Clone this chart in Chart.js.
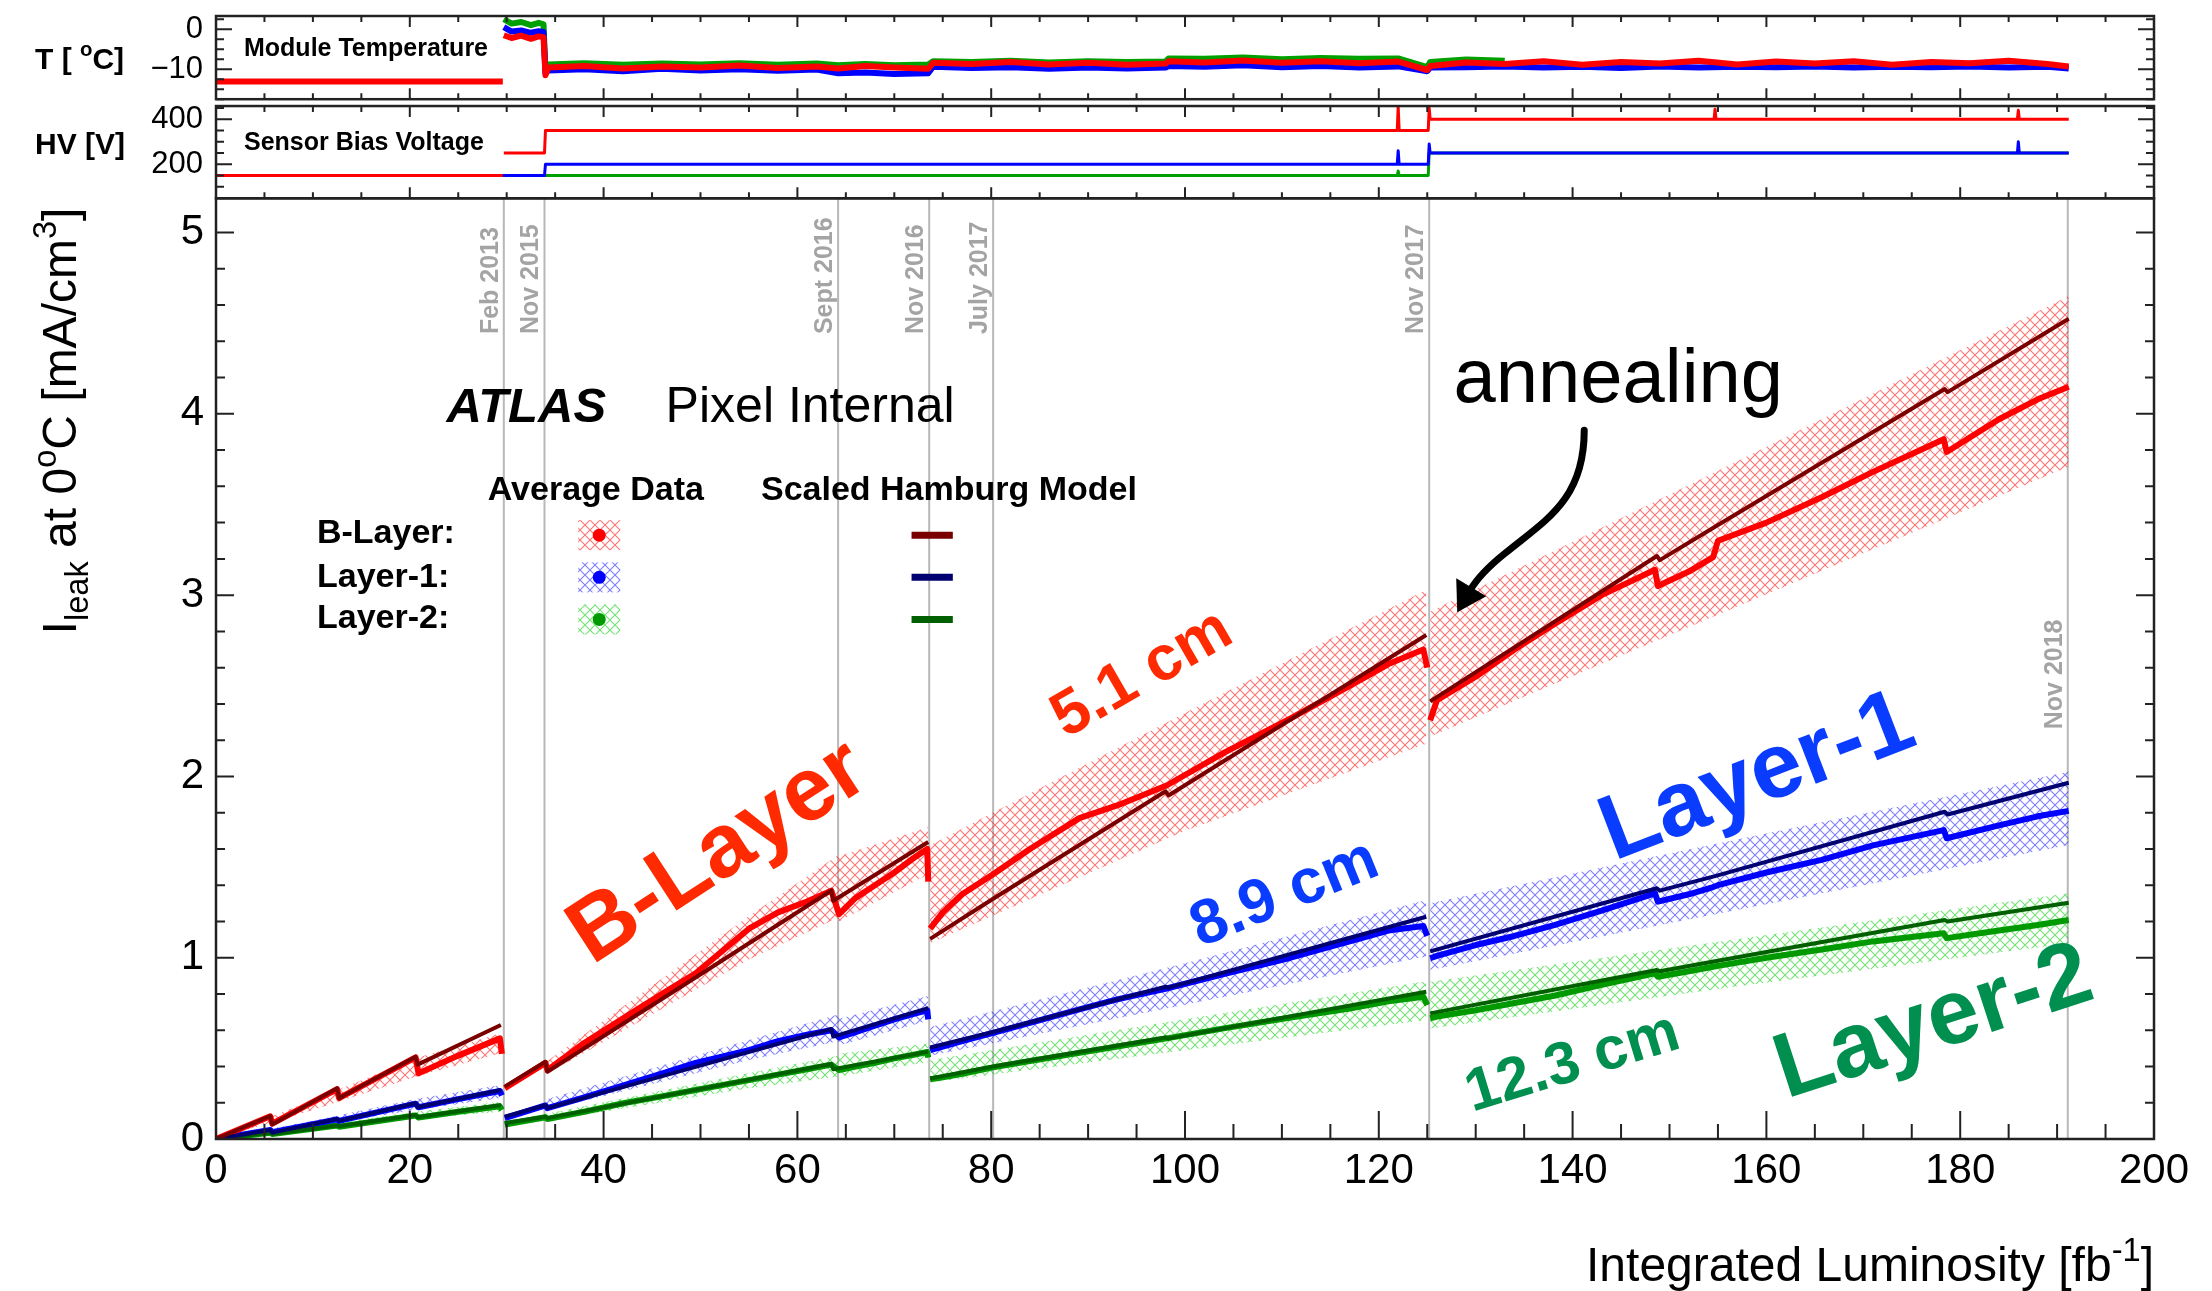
<!DOCTYPE html>
<html>
<head>
<title>ATLAS Pixel leakage current vs integrated luminosity</title>
<script src="https://cdn.jsdelivr.net/npm/chart.js"></script>
<style>
  html, body { margin: 0; padding: 0; background: #fff; }
</style>
</head>
<body>
<canvas id="chart" width="2212" height="1291"></canvas>
<script>
const FONT = '"Liberation Sans", Arial, Helvetica, sans-serif';
Chart.defaults.font.family = FONT;

// ---- main panel: leakage current [mA/cm3] vs integrated luminosity [fb-1] ----
// null = break between running periods
const modelLumi = [0, 5.6, 5.8, 12.5, 12.7, 20.6, 20.8, 29.4, 29.6, 29.8, 34.0, 34.2, 48, 63.5, 63.7, 73.5, 73.6,
  73.7, 80.2, 98, 98.3, 124.9, 125.1, 125.3, 148.7, 149.0, 154.7, 178.4, 178.7, 191.2];
const bModel  = [0, 0.127, 0.08, 0.28, 0.225, 0.454, 0.41, 0.629, null, 0.289, 0.426, 0.371, 0.84, 1.371, 1.314, 1.638, null,
  1.104, 1.325, 1.918, 1.895, 2.78, null, 2.414, 3.216, 3.193, 3.377, 4.137, 4.12, 4.525];
const l1Model = [0, 0.05, 0.035, 0.11, 0.1, 0.197, 0.175, 0.27, null, 0.123, 0.187, 0.17, 0.376, 0.607, 0.565, 0.722, null,
  0.505, 0.59, 0.84, 0.835, 1.226, null, 1.035, 1.383, 1.37, 1.45, 1.805, 1.79, 1.965];
const l2Model = [0, 0.035, 0.028, 0.075, 0.07, 0.132, 0.12, 0.187, null, 0.088, 0.123, 0.115, 0.256, 0.414, 0.385, 0.482, null,
  0.334, 0.40, 0.56, 0.555, 0.812, null, 0.693, 0.932, 0.925, 0.98, 1.208, 1.2, 1.303];

const dataLumi = [0, 5.6, 5.8, 12.5, 12.7, 20.6, 20.9, 25, 29.3, 29.5, 29.65, 29.8, 34.0, 34.2, 38, 42.3, 46, 49.5, 55, 58, 61, 63.5,
  64.3, 66, 68, 70, 72, 73.4, 73.5, 73.6, 73.7, 75, 77, 80.2, 84, 89.1, 93, 98.1, 104, 110.9, 117, 121, 124.6, 125.0, 125.15,
  125.3, 126, 130, 134, 138.1, 143, 148.5, 148.8, 152, 154.5, 155, 160, 165.7, 171, 178.3, 178.6, 184, 188, 191.2];
const bData = [0, 0.125, 0.085, 0.275, 0.225, 0.45, 0.362, 0.46, 0.555, 0.47, null, 0.28, 0.42, 0.38, 0.53, 0.675, 0.80, 0.914, 1.16, 1.25, 1.31, 1.37,
  1.24, 1.33, 1.40, 1.47, 1.55, 1.60, 1.42, null, 1.16, 1.25, 1.35, 1.46, 1.60, 1.77, 1.84, 1.95, 2.13, 2.32, 2.50, 2.62, 2.70, 2.60, null,
  2.31, 2.42, 2.55, 2.70, 2.84, 3.0, 3.14, 3.05, 3.13, 3.21, 3.30, 3.40, 3.54, 3.68, 3.86, 3.79, 3.97, 4.08, 4.15];
const l1Data = [0, 0.05, 0.037, 0.108, 0.1, 0.195, 0.175, 0.22, 0.265, 0.24, null, 0.115, 0.185, 0.17, 0.23, 0.3, 0.36, 0.42, 0.49, 0.54, 0.575, 0.6,
  0.56, 0.59, 0.625, 0.66, 0.69, 0.71, 0.66, null, 0.49, 0.51, 0.54, 0.585, 0.64, 0.715, 0.77, 0.83, 0.91, 1.0, 1.09, 1.15, 1.175, 1.12, null,
  0.997, 1.01, 1.07, 1.12, 1.18, 1.26, 1.355, 1.309, 1.35, 1.39, 1.40, 1.47, 1.54, 1.62, 1.704, 1.659, 1.73, 1.78, 1.81];
const l2Data = [0, 0.035, 0.028, 0.074, 0.068, 0.13, 0.118, 0.15, 0.18, 0.16, null, 0.08, 0.12, 0.11, 0.15, 0.2, 0.235, 0.27, 0.325, 0.355, 0.385, 0.41,
  0.38, 0.4, 0.42, 0.445, 0.465, 0.48, 0.45, null, 0.33, 0.34, 0.36, 0.395, 0.43, 0.475, 0.51, 0.555, 0.61, 0.67, 0.72, 0.76, 0.785, 0.739, null,
  0.666, 0.675, 0.71, 0.75, 0.79, 0.85, 0.914, 0.895, 0.925, 0.95, 0.955, 1.0, 1.045, 1.09, 1.135, 1.108, 1.15, 1.18, 1.208];

const bandLumi = [0, 10, 20.6, 29.4, 29.6, 29.8, 34.0, 34.2, 55, 64.2, 64.3, 73.5, 73.6, 73.7, 100, 124.9, 125.1, 125.3, 156.7, 191.2];
const bBandLo  = [0, 0.16, 0.344, 0.474, null, 0.27, 0.40, 0.36, 0.99, 1.22, 1.20, 1.46, null, 1.08, 1.70, 2.18, null, 2.22, 2.93, 3.71];
const bBandHi  = [0, 0.215, 0.446, 0.583, null, 0.30, 0.44, 0.43, 1.23, 1.565, 1.56, 1.72, null, 1.62, 2.35, 3.03, null, 2.91, 3.73, 4.65];
const l1BandLo = [0, 0.07, 0.16, 0.226, null, 0.11, 0.17, 0.16, 0.436, 0.539, 0.516, 0.652, null, 0.459, 0.74, 1.006, null, 0.932, 1.26, 1.622];
const l1BandHi = [0, 0.1, 0.22, 0.298, null, 0.13, 0.2, 0.22, 0.546, 0.687, 0.664, 0.789, null, 0.618, 0.97, 1.318, null, 1.30, 1.65, 2.026];
const l2BandLo = [0, 0.05, 0.11, 0.15, null, 0.07, 0.1, 0.1, 0.28, 0.345, 0.345, 0.425, null, 0.311, 0.49, 0.656, null, 0.61, 0.84, 1.079];
const l2BandHi = [0, 0.07, 0.15, 0.206, null, 0.09, 0.14, 0.14, 0.364, 0.459, 0.47, 0.527, null, 0.436, 0.66, 0.87, null, 0.868, 1.10, 1.355];

// ---- top panel: module temperature [C] ----
const tempLumi = [0, 29.6, 29.65, 29.7, 30.5, 31.5, 32.5, 33.3, 33.8, 34.0, 34.3, 38, 42, 46, 50, 54, 58, 62, 64.2, 67, 70, 73.5,
  74, 78, 82, 86, 90, 94, 98, 98.3, 102, 106, 110, 114, 118, 122, 125, 125.3, 129, 133, 137, 141, 145, 149, 153, 157, 161, 165,
  169, 173, 177, 181, 185, 189, 191.2];
const tempRed = [-13.1, -13.1, null, -1.5, -2.2, -1.6, -2.4, -1.8, -2.0, -11.5, -9.6, -9.2, -9.8, -9.3, -9.6, -9.1, -9.7, -9.3, -9.8, -9.2, -9.6, -9.9,
  -8.4, -8.7, -8.2, -8.8, -8.4, -8.9, -8.6, -8.0, -8.3, -7.8, -8.4, -8.0, -8.5, -8.1, -10.2, -9.2, -8.3, -8.7, -8.0, -8.9, -8.2, -8.6, -7.9, -8.8,
  -8.1, -8.6, -8.0, -8.9, -8.2, -8.5, -7.9, -8.7, -9.3];
const tempBlue = [null, null, null, 0.5, -0.6, -0.3, -0.9, -0.5, -0.7, -11.0, -10.3, -10.0, -10.5, -9.9, -10.3, -10.0, -10.4, -10.1, -11.0, -10.8, -11.2, -11.0,
  -9.4, -9.7, -9.5, -9.9, -9.6, -9.8, -9.6, -9.2, -9.4, -9.0, -9.5, -9.2, -9.6, -9.3, -10.5, -9.6, -9.5, -9.3, -9.6, -9.4, -9.7, -9.3, -9.6, -9.4,
  -9.5, -9.3, -9.6, -9.4, -9.5, -9.3, -9.6, -9.4, -9.8];
const tempGreen = [null, null, null, 2.5, 1.4, 1.8, 1.0, 1.6, 1.2, -10.5, -8.8, -8.5, -8.9, -8.6, -8.8, -8.5, -8.9, -8.6, -9.0, -8.7, -9.0, -8.8,
  -8.0, -8.2, -7.9, -8.3, -8.0, -8.2, -8.1, -7.3, -7.4, -7.1, -7.5, -7.2, -7.4, -7.3, -9.5, -8.2, -7.6, -7.9, null, null, null, null, null, null,
  null, null, null, null, null, null, null, null, null];

// ---- second panel: sensor bias voltage [V] ----
const hvLumi  = [0, 29.6, 29.65, 29.7, 33.9, 34.0, 121.9, 122.0, 122.1, 125.1, 125.2, 125.3, 154.6, 154.7, 154.8, 185.9, 186.0, 186.1, 191.2];
const hvRed   = [150, 150, null, 250, 250, 350, 350, 455, 350, 350, 450, 400, 400, 445, 400, 400, 440, 400, 400];
const hvBlue  = [150, 150, 150, 150, 150, 200, 200, 260, 200, 200, 290, 250, 250, 250, 250, 250, 300, 250, 250];
const hvGreen = [150, 150, 150, 150, 150, 150, 150, 170, 150, 150, 250, 250, 250, 250, 250, 250, 250, 250, 250];

// ---- annotations ----
const dateLumi   = [29.7, 33.9, 64.2, 73.6, 80.2, 125.2, 191.1];
const dateLabels = ['Feb 2013', 'Nov 2015', 'Sept 2016', 'Nov 2016', 'July 2017', 'Nov 2017', 'Nov 2018'];
const dateTextAt = [4.44, 4.44, 4.44, 4.44, 4.44, 4.44, 2.26];

const layerNames = ['B-Layer:', 'Layer-1:', 'Layer-2:'];
const dataColors = ['#ff0000', '#0000ff', '#009a00'];
const modelColors = ['#7a0000', '#000070', '#006000'];
const hatchColors = ['rgba(255,0,0,0.55)', 'rgba(0,0,255,0.5)', 'rgba(0,200,0,0.55)'];

const bigLabels = [
  {t: 'B-Layer', x: 51.9, y: 1.575, a: -33, s: 90, c: '#ff2a00'},
  {t: '5.1 cm', x: 95.6, y: 2.563, a: -30, s: 63, c: '#ff2a00'},
  {t: '8.9 cm', x: 110.3, y: 1.349, a: -22, s: 63, c: '#0a3cff'},
  {t: 'Layer-1', x: 159.1, y: 1.987, a: -21, s: 92, c: '#0a3cff'},
  {t: '12.3 cm', x: 140.0, y: 0.415, a: -17, s: 60, c: '#008f4e'},
  {t: 'Layer-2', x: 177.3, y: 0.634, a: -18, s: 92, c: '#008f4e'}
];

function pts(xs, ys) { return xs.map((x, i) => ({x: x, y: ys[i]})); }

function hatch(color) {
  const c = document.createElement('canvas');
  c.width = 10; c.height = 10;
  const g = c.getContext('2d');
  g.strokeStyle = color; g.lineWidth = 1.1;
  g.beginPath();
  g.moveTo(-1, -1); g.lineTo(11, 11);
  g.moveTo(11, -1); g.lineTo(-1, 11);
  g.stroke();
  return g.createPattern(c, 'repeat');
}
const patterns = hatchColors.map(hatch);

const layers = [
  {data: bData, model: bModel, lo: bBandLo, hi: bBandHi},
  {data: l1Data, model: l1Model, lo: l1BandLo, hi: l1BandHi},
  {data: l2Data, model: l2Model, lo: l2BandLo, hi: l2BandHi}
];

const datasets = [];
layers.forEach((L, i) => {
  datasets.push({label: layerNames[i] + ' band lo', data: pts(bandLumi, L.lo), yAxisID: 'y',
    borderColor: 'rgba(0,0,0,0)', borderWidth: 1, fill: false, order: 10});
  datasets.push({label: layerNames[i] + ' band', data: pts(bandLumi, L.hi), yAxisID: 'y',
    borderColor: 'rgba(0,0,0,0)', borderWidth: 1, fill: '-1', backgroundColor: patterns[i], order: 10});
  datasets.push({label: layerNames[i] + ' data', data: pts(dataLumi, L.data), yAxisID: 'y',
    borderColor: dataColors[i], borderWidth: 6, fill: false, order: 4});
  datasets.push({label: layerNames[i] + ' model', data: pts(modelLumi, L.model), yAxisID: 'y',
    borderColor: modelColors[i], borderWidth: 4, fill: false, order: 2});
});
[[tempGreen, '#00a000', 3], [tempBlue, '#0000ff', 2], [tempRed, '#ff0000', 1]].forEach(([v, c, o]) => {
  datasets.push({label: 'T', data: pts(tempLumi, v), yAxisID: 'yT', borderColor: c, borderWidth: 6, fill: false, order: o});
});
[[hvGreen, '#00a000', 3], [hvBlue, '#0000ff', 2], [hvRed, '#ff0000', 1]].forEach(([v, c, o]) => {
  datasets.push({label: 'HV', data: pts(hvLumi, v), yAxisID: 'yHV', borderColor: c, borderWidth: 3, fill: false, order: o});
});

function richText(ctx, pieces, x, y, size, weight, align) {
  const parts = pieces.map(p => {
    const s = (p.sup || p.sub) ? size * 0.68 : size;
    ctx.font = weight + ' ' + s + 'px ' + FONT;
    return {t: p.t, s: s, w: ctx.measureText(p.t).width, dy: p.sup ? -size * 0.42 : p.sub ? size * 0.24 : 0};
  });
  const total = parts.reduce((a, p) => a + p.w, 0);
  let cx = align === 'right' ? x - total : align === 'center' ? x - total / 2 : x;
  ctx.textAlign = 'left'; ctx.textBaseline = 'alphabetic';
  parts.forEach(p => {
    ctx.font = weight + ' ' + p.s + 'px ' + FONT;
    ctx.fillText(p.t, cx, y + p.dy);
    cx += p.w;
  });
}

const overlay = {
  id: 'overlay',
  beforeDatasetsDraw(chart) {
    const {ctx, scales: {x, y}} = chart;
    ctx.save();
    ctx.strokeStyle = '#b8b8b8'; ctx.lineWidth = 2;
    dateLumi.forEach(v => {
      const px = x.getPixelForValue(v);
      ctx.beginPath(); ctx.moveTo(px, y.top); ctx.lineTo(px, y.bottom); ctx.stroke();
    });
    ctx.fillStyle = '#a4a4a4'; ctx.font = 'bold 25px ' + FONT;
    ctx.textAlign = 'left'; ctx.textBaseline = 'alphabetic';
    dateLumi.forEach((v, i) => {
      ctx.save();
      ctx.translate(x.getPixelForValue(v) - 6, y.getPixelForValue(dateTextAt[i]));
      ctx.rotate(-Math.PI / 2);
      ctx.fillText(dateLabels[i], 0, 0);
      ctx.restore();
    });
    ctx.restore();
  },
  afterDatasetsDraw(chart) {
    const {ctx, scales: {x, y, yT, yHV}} = chart;
    const L = x.left, R = x.right;
    const tTop = yT.getPixelForValue(3.3), tBot = yT.getPixelForValue(-17.5);
    const hTop = yHV.getPixelForValue(459), hBot = yHV.bottom;
    const mTop = y.top, mBot = y.bottom;
    ctx.save();
    ctx.strokeStyle = '#222'; ctx.lineWidth = 2.5;
    ctx.strokeRect(L, tTop, R - L, tBot - tTop);
    ctx.strokeRect(L, hTop, R - L, hBot - hTop);
    ctx.strokeRect(L, mTop, R - L, mBot - mTop);
    ctx.lineWidth = 2;
    ctx.beginPath();
    for (let v = 0; v <= 200; v += 5) {
      const px = x.getPixelForValue(v);
      const major = v % 20 === 0;
      ctx.moveTo(px, mBot); ctx.lineTo(px, mBot - (major ? 28 : 15));
      ctx.moveTo(px, tTop); ctx.lineTo(px, tTop + (major ? 11 : 6));
      ctx.moveTo(px, tBot); ctx.lineTo(px, tBot - (major ? 11 : 6));
      ctx.moveTo(px, hTop); ctx.lineTo(px, hTop + (major ? 11 : 6));
      ctx.moveTo(px, hBot); ctx.lineTo(px, hBot - (major ? 11 : 6));
    }
    for (let k = 0; k <= 25; k++) {
      const py = y.getPixelForValue(k * 0.2);
      const len = k % 5 === 0 ? 18 : 9;
      ctx.moveTo(L, py); ctx.lineTo(L + len, py);
      ctx.moveTo(R, py); ctx.lineTo(R - len, py);
    }
    for (let k = -7; k <= 1; k++) {
      const py = yT.getPixelForValue(k * 2.5);
      const len = k % 4 === 0 ? 16 : 8;
      ctx.moveTo(L, py); ctx.lineTo(L + len, py);
      ctx.moveTo(R, py); ctx.lineTo(R - len, py);
    }
    for (let v = 50; v <= 450; v += 50) {
      const py = yHV.getPixelForValue(v);
      const len = v % 200 === 0 ? 16 : 8;
      ctx.moveTo(L, py); ctx.lineTo(L + len, py);
      ctx.moveTo(R, py); ctx.lineTo(R - len, py);
    }
    ctx.stroke();
    ctx.restore();
  },
  afterDraw(chart) {
    const {ctx, scales: {x, y}} = chart;
    const px = v => x.getPixelForValue(v), py = v => y.getPixelForValue(v);
    ctx.save();
    ctx.fillStyle = '#000';

    // panel titles
    ctx.textAlign = 'left'; ctx.textBaseline = 'alphabetic';
    ctx.font = 'bold 25px ' + FONT;
    ctx.fillText('Module Temperature', 244, 56);
    ctx.fillText('Sensor Bias Voltage', 244, 150);
    richText(ctx, [{t: 'T [ '}, {t: 'o', sup: true}, {t: 'C]'}], 35, 69, 30, 'bold', 'left');
    richText(ctx, [{t: 'HV [V]'}], 35, 154, 30, 'bold', 'left');

    // axis titles
    richText(ctx, [{t: 'Integrated Luminosity [fb'}, {t: '-1', sup: true}, {t: ']'}], x.right, 1281, 48, 'normal', 'right');
    ctx.save();
    ctx.translate(76, 421);
    ctx.rotate(-Math.PI / 2);
    richText(ctx, [{t: 'I'}, {t: 'leak', sub: true}, {t: ' at 0'}, {t: 'o', sup: true}, {t: 'C [mA/cm'}, {t: '3', sup: true}, {t: ']'}],
      0, 0, 48, 'normal', 'center');
    ctx.restore();

    // ATLAS label
    ctx.textAlign = 'left';
    ctx.font = 'italic bold 49px ' + FONT;
    ctx.fillText('ATLAS', px(23.78), py(3.956));
    ctx.font = '50px ' + FONT;
    ctx.fillText('Pixel Internal', px(46.4), py(3.956));

    // legend
    ctx.font = 'bold 34px ' + FONT;
    ctx.fillText('Average Data', px(28.05), py(3.525));
    ctx.fillText('Scaled Hamburg Model', px(56.24), py(3.525));
    const rowText = [3.286, 3.046, 2.817], rowMark = [3.331, 3.098, 2.866];
    layerNames.forEach((n, i) => {
      ctx.fillStyle = '#000';
      ctx.font = 'bold 34px ' + FONT;
      ctx.fillText(n, px(10.42), py(rowText[i]));
      const cx = px(39.55), cy = py(rowMark[i]);
      ctx.fillStyle = patterns[i];
      ctx.fillRect(cx - 21, cy - 15, 42, 30);
      ctx.fillStyle = dataColors[i];
      ctx.beginPath(); ctx.arc(cx, cy, 6.5, 0, Math.PI * 2); ctx.fill();
      ctx.strokeStyle = modelColors[i]; ctx.lineWidth = 7;
      ctx.beginPath(); ctx.moveTo(px(71.78), cy); ctx.lineTo(px(76.04), cy); ctx.stroke();
    });

    // annealing arrow
    ctx.fillStyle = '#000';
    ctx.font = '76px ' + FONT;
    ctx.fillText('annealing', px(127.7), py(4.065));
    const ax = px(141.2), ay = py(3.91);
    ctx.strokeStyle = '#000'; ctx.lineWidth = 7; ctx.lineCap = 'round';
    ctx.beginPath();
    ctx.moveTo(ax, ay);
    ctx.bezierCurveTo(ax, ay + 70, ax - 39, ay + 90, ax - 79, ay + 123);
    ctx.quadraticCurveTo(ax - 104, ay + 143, ax - 114, ay + 160);
    ctx.stroke();
    ctx.beginPath();
    ctx.moveTo(ax - 127, ay + 182);
    ctx.lineTo(ax - 128, ay + 148);
    ctx.lineTo(ax - 98, ay + 166);
    ctx.closePath(); ctx.fill();

    // big layer labels
    bigLabels.forEach(b => {
      ctx.save();
      ctx.translate(px(b.x), py(b.y));
      ctx.rotate(b.a * Math.PI / 180);
      ctx.fillStyle = b.c;
      ctx.font = 'bold ' + b.s + 'px ' + FONT;
      ctx.textAlign = 'center'; ctx.textBaseline = 'middle';
      ctx.fillText(b.t, 0, 0);
      ctx.restore();
    });
    ctx.restore();
  }
};

const tickFont = size => ({family: FONT, size: size});
const minus = v => v < 0 ? '\u2212' + Math.abs(v) : String(v);
// fixed box sizes; drop the label overhang padding so the panels sit where the reference has them
const fixY = s => { s.width = 200; s.paddingTop = 0; s.paddingBottom = 0; };

new Chart(document.getElementById('chart'), {
  type: 'line',
  data: {datasets: datasets},
  options: {
    responsive: false,
    animation: false,
    devicePixelRatio: 1,
    events: [],
    layout: {padding: {top: 16, left: 16, right: 58, bottom: 0}},
    plugins: {legend: {display: false}, tooltip: {enabled: false}, filler: {propagate: false}},
    elements: {point: {radius: 0}, line: {tension: 0, borderJoinStyle: 'round'}},
    scales: {
      x: {
        type: 'linear', position: 'bottom', min: 0, max: 200,
        grid: {display: false, drawTicks: false}, border: {display: false},
        ticks: {stepSize: 20, font: tickFont(42), color: '#000', padding: 7, maxRotation: 0, autoSkip: false},
        afterFit: s => { s.height = 152; s.paddingLeft = 0; s.paddingRight = 0; }
      },
      y: {
        type: 'linear', position: 'left', stack: 'panels', stackWeight: 940.7, weight: 1,
        min: 0, max: 5.189,
        grid: {display: false, drawTicks: false}, border: {display: false},
        afterBuildTicks: s => { s.ticks = [0, 1, 2, 3, 4, 5].map(v => ({value: v})); },
        ticks: {font: tickFont(42), color: '#000', padding: 12},
        afterFit: fixY
      },
      yHV: {
        type: 'linear', position: 'left', stack: 'panels', stackWeight: 95.6, weight: 2,
        min: 48.9, max: 473.8,
        grid: {display: false, drawTicks: false}, border: {display: false},
        afterBuildTicks: s => { s.ticks = [200, 400].map(v => ({value: v})); },
        ticks: {font: tickFont(31), color: '#000', padding: 13},
        afterFit: fixY
      },
      yT: {
        type: 'linear', position: 'left', stack: 'panels', stackWeight: 86.7, weight: 3,
        min: -18.375, max: 3.3,
        grid: {display: false, drawTicks: false}, border: {display: false},
        afterBuildTicks: s => { s.ticks = [-10, 0].map(v => ({value: v})); },
        ticks: {font: tickFont(31), color: '#000', padding: 13, callback: minus},
        afterFit: fixY
      }
    }
  },
  plugins: [overlay]
});
</script>
</body>
</html>
